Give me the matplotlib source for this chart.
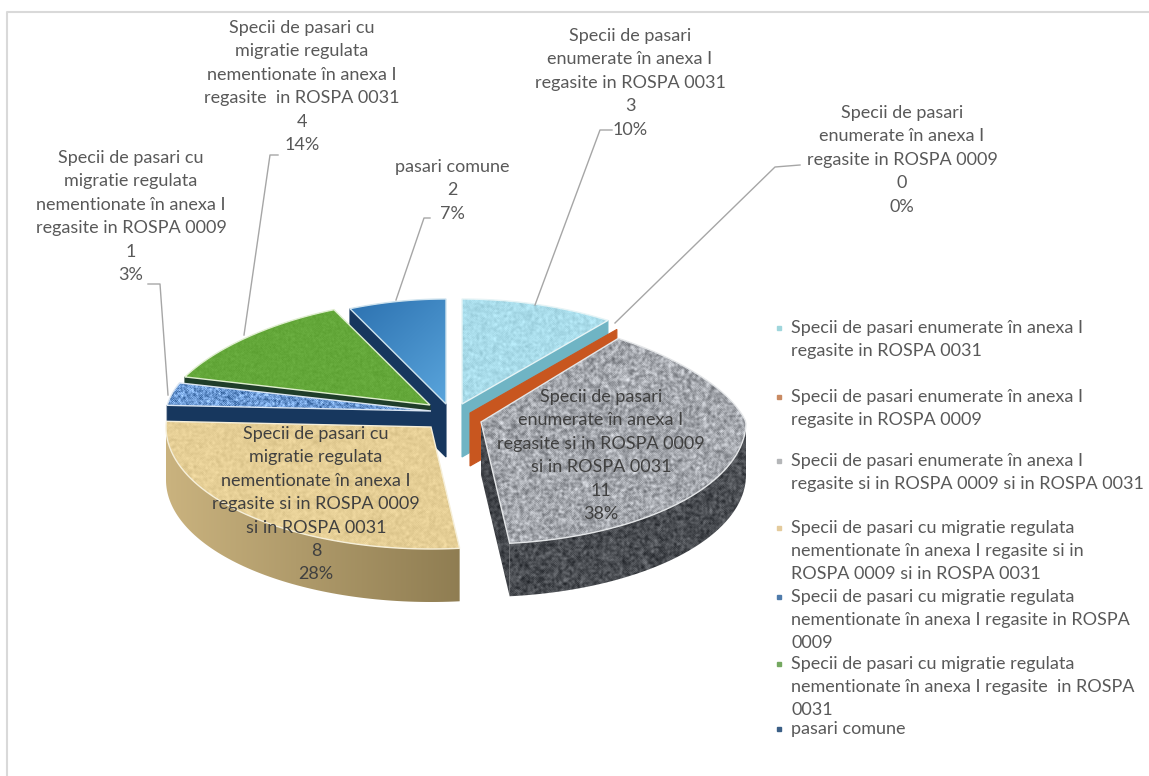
import numpy as np
import matplotlib
matplotlib.use('Agg')
import matplotlib.pyplot as plt
from matplotlib.patches import Polygon

plt.rcParams['font.family'] = ['Lato', 'DejaVu Sans']

# date
valori = [3, 0, 11, 8, 1, 4, 2]
legenda = [
    ['Specii de pasari enumerate în anexa I', 'regasite in ROSPA 0031'],
    ['Specii de pasari enumerate în anexa I', 'regasite in ROSPA 0009'],
    ['Specii de pasari enumerate în anexa I', 'regasite si in ROSPA 0009 si in ROSPA 0031'],
    ['Specii de pasari cu migratie regulata', 'nementionate în anexa I regasite si in', 'ROSPA 0009 si in ROSPA 0031'],
    ['Specii de pasari cu migratie regulata', 'nementionate în anexa I regasite in ROSPA', '0009'],
    ['Specii de pasari cu migratie regulata', 'nementionate în anexa I regasite  in ROSPA', '0031'],
    ['pasari comune'],
]
etichete = [
    ['Specii de pasari', 'enumerate în anexa I', 'regasite in ROSPA 0031'],
    ['Specii de pasari', 'enumerate în anexa I', 'regasite in ROSPA 0009'],
    ['Specii de pasari', 'enumerate în anexa I', 'regasite si in ROSPA 0009', 'si in ROSPA 0031'],
    ['Specii de pasari cu', 'migratie regulata', 'nementionate în anexa I', 'regasite si in ROSPA 0009', 'si in ROSPA 0031'],
    ['Specii de pasari cu', 'migratie regulata', 'nementionate în anexa I', 'regasite in ROSPA 0009'],
    ['Specii de pasari cu', 'migratie regulata', 'nementionate în anexa I', 'regasite  in ROSPA 0031'],
    ['pasari comune'],
]
culori_legenda = ['#9fd6dc', '#c98a62', '#b4b6b8', '#e4cb9c', '#4f7bab', '#74a860', '#3b5f86']

W, H = 1149, 776
GROSIME = 53

# centrul fiecarei felii (explodata) in pixeli
centre = [(462, 404), (470, 413), (481, 422), (431, 427), (431, 411), (430, 405), (446, 404)]
# cat se ingusteaza elipsa spre spate, pe felie
contractie = [30, 28, 48, 0, 15, 40, 40]
# pozitia etichetelor: x centru, y prima linie
poz_etichete = [(630, 36), (902, 113), (601, 397), (316, 434), (131, 158), (302, 28), (452, 167)]
poz_legenda = [328, 397, 461, 528, 597, 664, 729]
linii_ghid = [
    [(612, 130), (600, 130), (535, 305)],
    [(800, 165), (775, 167), (615, 323)],
    None, None,
    [(148, 284), (160, 284), (168, 395)],
    [(278, 155), (270, 155), (244, 335)],
    [(430, 218), (424, 218), (396, 300)],
]


def zgomot(seed, netezire=1):
    # textura, nu date
    yy, xx = np.mgrid[0:H, 0:W]
    n = (np.sin(xx * 12.9898 + yy * 78.233 + seed) * 43758.5453) % 1
    for _ in range(netezire):
        n = (n + np.roll(n, 1, 0) + np.roll(n, 1, 1) + np.roll(n, -1, 0) + np.roll(n, -1, 1)) / 5
    return (n - n.mean()) / n.std()


def culoare_rgb(c):
    return np.array(matplotlib.colors.to_rgb(c))


def margine(th, i):
    # punct pe marginea elipsei, th in grade de sus in sensul acelor
    cx, cy = centre[i]
    t = np.radians(th)
    c = np.cos(t)
    rx = 265 - contractie[i] * np.maximum(c, 0)
    ry = np.where(c > 0, 105, 122)
    return cx + rx * np.sin(t), cy - ry * c


fig = plt.figure(figsize=(W / 100, H / 100), dpi=100)
ax = fig.add_axes([0, 0, 1, 1])
ax.set_axis_off()

zorder = [1]


def umple(pts, culoare, muchie=None, textura=None):
    zorder[0] += 1
    if textura is None:
        ax.add_patch(Polygon(pts, closed=True, facecolor=culoare,
                             edgecolor=muchie if muchie else culoare, lw=0.8, zorder=zorder[0]))
        return
    poly = Polygon(pts, closed=True, facecolor='none', edgecolor='none', zorder=zorder[0])
    ax.add_patch(poly)
    im = ax.imshow(np.clip(textura, 0, 1), extent=(0, W, H, 0), aspect='auto',
                   interpolation='bilinear', zorder=zorder[0])
    im.set_clip_path(poly)
    if muchie:
        zorder[0] += 1
        ax.add_patch(Polygon(pts, closed=True, facecolor='none', edgecolor=muchie, lw=1.0, zorder=zorder[0]))


def textura(culoare, amp, seed, netezire=1):
    return culoare_rgb(culoare)[None, None, :] + amp * zgomot(seed, netezire)[:, :, None]


def gradient(c1, c2, x0, x1, y0=None, y1=None):
    yy, xx = np.mgrid[0:H, 0:W]
    f = (xx - x0) / (x1 - x0)
    if y0 is not None:
        f = 0.5 * f + 0.5 * (yy - y0) / (y1 - y0)
    f = np.clip(f, 0, 1)[:, :, None]
    return culoare_rgb(c1) * (1 - f) + culoare_rgb(c2) * f


# unghiurile feliilor
cum = np.cumsum([0] + valori) / sum(valori) * 360


def top(i):
    th = np.linspace(cum[i], cum[i + 1], 80)
    x, y = margine(th, i)
    return np.vstack([[centre[i]], np.column_stack([x, y])])


def fata(i, unghi):
    # fata radiala extrudata
    cx, cy = centre[i]
    rx, ry = margine(unghi, i)
    return [(cx, cy), (float(rx), float(ry)), (float(rx), float(ry) + GROSIME), (cx, cy + GROSIME)]


def perete(i, a, b):
    th = np.linspace(a, b, 80)
    x, y = margine(th, i)
    return np.vstack([np.column_stack([x, y]), np.column_stack([x[::-1], y[::-1] + GROSIME])])


# din spate spre fata
umple(fata(6, cum[6]), '#17375e')
umple(top(6), '#3b86c4', '#cfe3ee', gradient('#2a6fae', '#5aa5dc', 340, 450, 300, 400))

umple(fata(5, cum[5]), '#1f3d2a')
umple(top(5), '#64a83a', '#dfeecf', textura('#64a83a', 0.012, 5.0))

umple(fata(4, cum[4]), '#17375e')
umple(top(4), '#6c9ad4', '#dbe6f2', textura('#6d9bd6', 0.09, 4.0, 1))

umple(fata(0, cum[1]), '#6fb4c4')
umple(top(0), '#a9dcea', '#e6f4f6', textura('#a9dcea', 0.025, 1.0, 2))

umple(fata(1, cum[1]), '#c8561f')

umple(perete(3, cum[3], 270), '#a8946a', None, gradient('#c9b27e', '#8f7d52', 170, 460))
umple(top(3), '#e6cf96', '#f6efd9', textura('#e6cf96', 0.018, 3.0, 2))

umple(fata(2, cum[3]), '#3c3f44', None, textura('#44474c', 0.04, 7.0, 2))
umple(perete(2, 90, cum[3]), '#4a4d52', None, textura('#4a4d52', 0.05, 8.0, 2))
umple(top(2), '#9a9da3', '#e4e6e8', textura('#a4a7ad', 0.07, 2.0, 2))

# rama
ax.plot([7, 7, W], [H, 12, 12], color='#d9d9d9', lw=1.5, zorder=1)

# linii de ghidaj
for ghid in linii_ghid:
    if ghid:
        xs, ys = zip(*ghid)
        ax.plot(xs, ys, color='#a6a6a6', lw=1.0, zorder=50)

# etichete
culoare_text = '#595959'
FS = 13
PAS = 23.4
total = sum(valori)
for i, (et, (x, y)) in enumerate(zip(etichete, poz_etichete)):
    linii = et + [str(valori[i]), f'{round(valori[i] / total * 100)}%']
    c = '#404040' if i in (2, 3) else culoare_text
    for k, linie in enumerate(linii):
        ax.text(x, y + k * PAS, linie, ha='center', va='center', fontsize=FS, color=c, zorder=60)

# legenda
for linii, y0, c in zip(legenda, poz_legenda, culori_legenda):
    ax.plot([779], [y0], marker='s', ms=3.5, color=c, zorder=60)
    for k, linie in enumerate(linii):
        ax.text(791, y0 + k * 23.2, linie, ha='left', va='center', fontsize=FS, color=culoare_text, zorder=60)

ax.set_xlim(0, W)
ax.set_ylim(H, 0)
fig.savefig('out.png', dpi=100)
